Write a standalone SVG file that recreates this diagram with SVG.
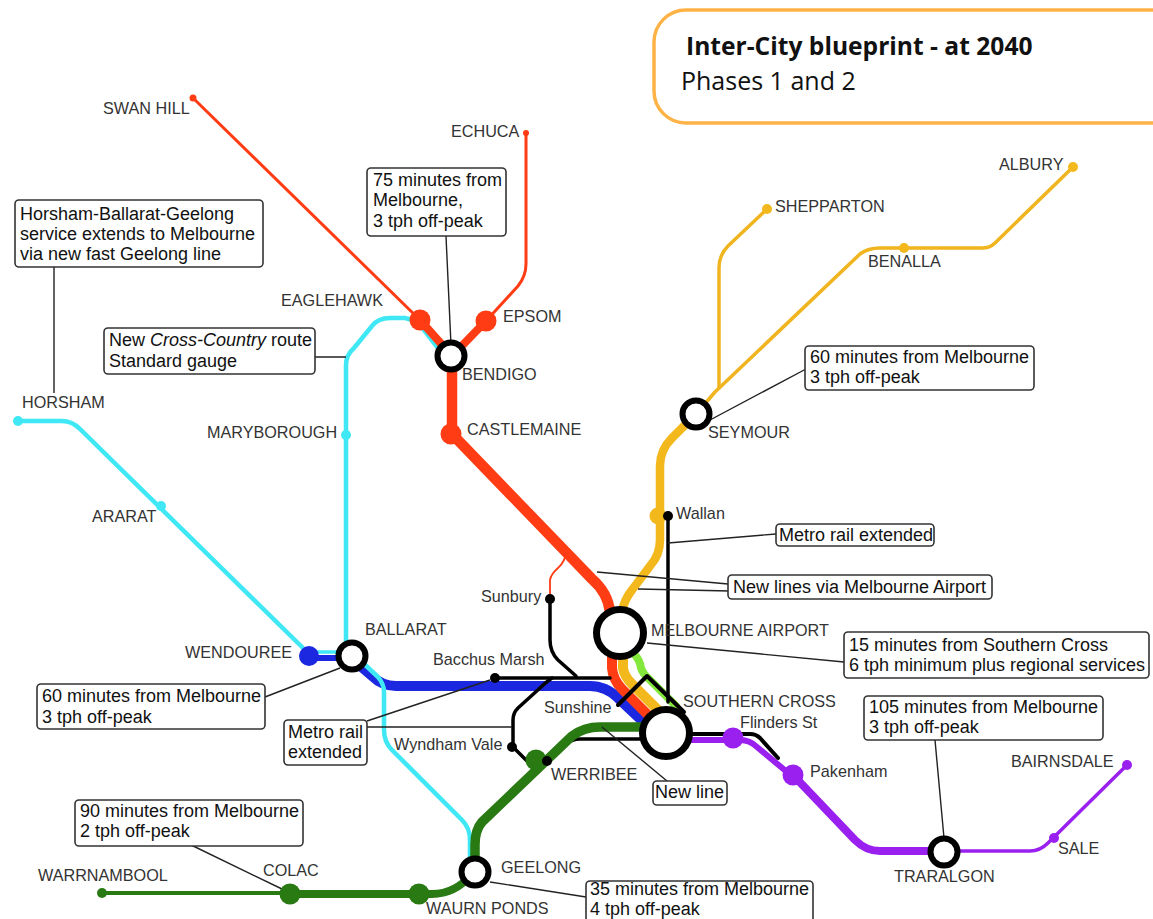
<svg xmlns="http://www.w3.org/2000/svg" width="1153" height="919" viewBox="0 0 1153 919">
<style>
text{font-family:"Liberation Sans",Arial,sans-serif;font-size:16.2px;fill:#333}
.k{fill:#111;font-size:18px}
.c{font-family:"Open Sans","Noto Sans",sans-serif;fill:#111}
.l{fill:none;stroke-linejoin:round;stroke-linecap:round}
.box{fill:#fff;stroke:#333;stroke-width:1.6}
.lead{fill:none;stroke:#222;stroke-width:1.4}
.st{fill:#fff;stroke:#000;stroke-width:6}
</style>
<rect width="1153" height="919" fill="#fff"/>
<g id="connectors">
<path class="l" stroke="#3fe8f4" stroke-width="4.5" d="M18 421H62Q72 421 80 429L302 647"/>
<path class="l" stroke="#3fe8f4" stroke-width="3.5" d="M302 647L307 652H345"/>
<path class="l" stroke="#1c28e0" stroke-width="6" d="M309 658H345"/>
<path class="l" stroke="#1c28e0" stroke-width="10" d="M358 664L372 676Q382 686 396 686H590Q606 686 618 698L652 730"/>
<path class="l" stroke="#3fe8f4" stroke-width="4.5" d="M360 660L378 677Q384 684 384 692V730Q384 742 392 750L462 820Q470 828 470 840V860"/>
<path class="l" stroke="#3fe8f4" stroke-width="4.5" d="M346 655V365Q346 355 354 348L372 326Q378 318 390 318H405Q416 320 424 330L438 348"/>
<path class="l" stroke="#f0b41e" stroke-width="3.5" d="M767 209L728 246Q719 255 719 268V388"/>
<path class="l" stroke="#f0b41e" stroke-width="3.5" d="M1073 167L995 243Q990 248 982 248H880Q868 248 860 254L715 392L696 414"/>
<path class="l" stroke="#f3b81c" stroke-width="8.5" d="M696 414L672 438Q660 450 660 466V540Q660 555 650 566L632 590Q624 600 622 612"/>
<path class="l" stroke="#ff3c14" stroke-width="3" d="M193 98L420 320"/>
<path class="l" stroke="#ff3c14" stroke-width="3" d="M526 133V264Q526 276 518 286L486 321"/>
<path class="l" stroke="#ff3c14" stroke-width="8" d="M420 320L452 356M486 321L452 356"/>
<path class="l" stroke="#ff3c14" stroke-width="10.5" d="M452 356V434L592 579Q608 593 610 612"/>
<path class="l" stroke="#ff3c14" stroke-width="1.8" d="M550 598V580Q551 574 558 568Q565 562 567 550"/>
<path class="l" stroke="#84e83c" stroke-width="8" d="M634 654Q640 660 641 668Q643 674 650 680L676 706"/>
<path class="l" stroke="#f3b81c" stroke-width="10" d="M623 655V668Q624 676 632 684L660 712"/>
<path class="l" stroke="#ff3c14" stroke-width="10" d="M612 655V668Q613 680 622 689L652 719"/>
<path class="l" stroke="#000" stroke-width="3.5" d="M495 678H610"/>
<path class="l" stroke="#000" stroke-width="3.5" d="M550 598V640Q550 652 558 660L576 676"/>
<path class="l" stroke="#000" stroke-width="3.5" d="M552 678Q546 682 540 688L518 708Q513 713 513 720V747L528 762"/>
<path class="l" stroke="#000" stroke-width="3.5" d="M668 516V702"/>
<path class="l" stroke="#000" stroke-width="3.5" d="M547 761L566 744Q572 739 580 739H660"/>
<path class="l" stroke="#2a7a14" stroke-width="9.5" d="M645 727H600Q584 727 572 736L482 822Q475 830 475 845V866"/>
<path class="l" stroke="#2a7a14" stroke-width="4" d="M102 893H290"/>
<path class="l" stroke="#2a7a14" stroke-width="8" d="M290 894H432Q455 894 472 874"/>
<path class="l" stroke="#9a20f0" stroke-width="6" d="M672 740H740Q750 740 757 747L793 777"/>
<path class="l" stroke="#000" stroke-width="4" d="M690 734H750Q756 734 760 738L778 758"/>
<path class="l" stroke="#9a20f0" stroke-width="8" d="M793 775L855 840Q866 851 880 851H944"/>
<path class="l" stroke="#9a20f0" stroke-width="3.5" d="M944 851H1030Q1040 851 1048 843L1127 765"/>
<path class="l" stroke="#000" stroke-width="4" d="M618 705L647 676L684 712"/>
<path class="lead" d="M54 267V393M346 357H315M446 236L451 345"/>
<path class="lead" d="M710 420L806 369M668 543L776 534M597 572L728 584M638 589L730 591M647 643L844 662M265 697L340 668M367 721L490 680M367 727H512M602 727L667 781M187 843L282 889M490 882L586 897M944 838L935 740"/>
</g>
<g id="node-swan-hill"><circle cx="193" cy="98" r="3.5" fill="#ff3c14"/><text x="103" y="114">SWAN HILL</text></g>
<g id="node-echuca"><circle cx="526" cy="133" r="3" fill="#ff3c14"/><text x="451" y="137">ECHUCA</text></g>
<g id="node-eaglehawk"><circle cx="420" cy="320" r="10.5" fill="#ff3c14"/><text x="281" y="306">EAGLEHAWK</text></g>
<g id="node-epsom"><circle cx="486" cy="321" r="10.5" fill="#ff3c14"/><text x="503" y="322">EPSOM</text></g>
<g id="node-bendigo"><circle class="st" cx="451" cy="356" r="13.5"/><text x="462" y="380">BENDIGO</text></g>
<g id="node-castlemaine"><circle cx="451" cy="434" r="10.5" fill="#ff3c14"/><text x="467" y="435">CASTLEMAINE</text></g>
<g id="node-maryborough"><circle cx="346" cy="435" r="5" fill="#3fe8f4"/><text x="207" y="438">MARYBOROUGH</text></g>
<g id="node-horsham"><circle cx="18" cy="421" r="5" fill="#3fe8f4"/><text x="22" y="408">HORSHAM</text></g>
<g id="node-ararat"><circle cx="161" cy="506" r="5" fill="#3fe8f4"/><text x="92" y="522">ARARAT</text></g>
<g id="node-wendouree"><circle cx="309" cy="656" r="10" fill="#1c28e0"/><text x="185" y="658">WENDOUREE</text></g>
<g id="node-ballarat"><circle class="st" cx="352" cy="656" r="13.5"/><text x="365" y="635">BALLARAT</text></g>
<g id="node-bacchus"><circle cx="495" cy="678" r="5" fill="#000"/><text x="433" y="665">Bacchus Marsh</text></g>
<g id="node-sunbury"><circle cx="550" cy="599" r="5" fill="#000"/><text x="481" y="602">Sunbury</text></g>
<g id="node-sunshine"><text x="544" y="713">Sunshine</text></g>
<g id="node-wyndham"><circle cx="512" cy="747" r="5" fill="#000"/><text x="394" y="750">Wyndham Vale</text></g>
<g id="node-werribee"><circle cx="536" cy="760" r="10.5" fill="#2a7a14"/><circle cx="547" cy="761" r="5" fill="#000"/><text x="551" y="780">WERRIBEE</text></g>
<g id="node-airport"><circle class="st" cx="620" cy="633" r="23.5" style="stroke-width:7"/><text x="651" y="636">MELBOURNE AIRPORT</text></g>
<g id="node-southern-cross"><circle class="st" cx="666" cy="733" r="23.5" style="stroke-width:7"/><text x="683" y="707">SOUTHERN CROSS</text></g>
<g id="node-flinders"><circle cx="733" cy="738" r="10.5" fill="#9a20f0"/><text x="740" y="728">Flinders St</text></g>
<g id="node-pakenham"><circle cx="793" cy="775" r="10.5" fill="#9a20f0"/><text x="810" y="777">Pakenham</text></g>
<g id="node-traralgon"><circle class="st" cx="944" cy="852" r="13.5"/><text x="894" y="882">TRARALGON</text></g>
<g id="node-sale"><circle cx="1054" cy="838" r="5" fill="#9a20f0"/><text x="1058" y="854">SALE</text></g>
<g id="node-bairnsdale"><circle cx="1127" cy="765" r="5" fill="#9a20f0"/><text x="1011" y="767">BAIRNSDALE</text></g>
<g id="node-wallan"><circle cx="658" cy="516" r="8.5" fill="#f3b81c"/><circle cx="668" cy="516" r="5" fill="#000"/><text x="676" y="519">Wallan</text></g>
<g id="node-seymour"><circle class="st" cx="696" cy="414" r="13.5"/><text x="708" y="438">SEYMOUR</text></g>
<g id="node-shepparton"><circle cx="767" cy="209" r="5" fill="#f3b81c"/><text x="775" y="212">SHEPPARTON</text></g>
<g id="node-benalla"><circle cx="904" cy="248" r="5" fill="#f3b81c"/><text x="868" y="267">BENALLA</text></g>
<g id="node-albury"><circle cx="1073" cy="167" r="5" fill="#f3b81c"/><text x="999" y="170">ALBURY</text></g>
<g id="node-geelong"><circle class="st" cx="475" cy="872" r="13.5"/><text x="501" y="873">GEELONG</text></g>
<g id="node-waurn"><circle cx="419" cy="894" r="10.5" fill="#2a7a14"/><text x="426" y="914">WAURN PONDS</text></g>
<g id="node-colac"><circle cx="290" cy="894" r="10.5" fill="#2a7a14"/><text x="263" y="876">COLAC</text></g>
<g id="node-warrnambool"><circle cx="102" cy="893" r="5" fill="#2a7a14"/><text x="38" y="881">WARRNAMBOOL</text></g>
<g id="note-title"><path d="M1153 10H686A32 32 0 0 0 654 42V91A32 32 0 0 0 686 123H1153" fill="#fff" stroke="#ffb347" stroke-width="3.5"/><text class="c" x="686" y="55" style="font-size:24.6px;font-weight:700">Inter-City blueprint - at 2040</text><text class="c" x="681" y="90" style="font-size:25px">Phases 1 and 2</text></g>
<g id="note-horsham"><rect class="box" x="15" y="200" width="248" height="67" rx="4"/><text class="k" x="20" y="220">Horsham-Ballarat-Geelong</text><text class="k" x="20" y="240">service extends to Melbourne</text><text class="k" x="20" y="260">via new fast Geelong line</text></g>
<g id="note-75"><rect class="box" x="367" y="168" width="139" height="68" rx="4"/><text class="k" x="373" y="186">75 minutes from</text><text class="k" x="373" y="206">Melbourne,</text><text class="k" x="373" y="227">3 tph off-peak</text></g>
<g id="note-cross"><rect class="box" x="104" y="328" width="211" height="46" rx="4"/><text class="k" x="109" y="346">New <tspan font-style="italic">Cross-Country</tspan> route</text><text class="k" x="109" y="367">Standard gauge</text></g>
<g id="note-60a"><rect class="box" x="805" y="346" width="229" height="44" rx="4"/><text class="k" x="810" y="363">60 minutes from Melbourne</text><text class="k" x="810" y="383">3 tph off-peak</text></g>
<g id="note-metro"><rect class="box" x="776" y="524" width="158" height="22" rx="4"/><text class="k" x="779" y="541">Metro rail extended</text></g>
<g id="note-airport"><rect class="box" x="728" y="575" width="264" height="24" rx="4"/><text class="k" x="733" y="593">New lines via Melbourne Airport</text></g>
<g id="note-15"><rect class="box" x="844" y="632" width="305" height="46" rx="4"/><text class="k" x="849" y="651">15 minutes from Southern Cross</text><text class="k" x="849" y="671">6 tph minimum plus regional services</text></g>
<g id="note-105"><rect class="box" x="864" y="696" width="239" height="44" rx="4"/><text class="k" x="869" y="713">105 minutes from Melbourne</text><text class="k" x="869" y="733">3 tph off-peak</text></g>
<g id="note-60b"><rect class="box" x="37" y="684" width="228" height="45" rx="4"/><text class="k" x="42" y="702">60 minutes from Melbourne</text><text class="k" x="42" y="723">3 tph off-peak</text></g>
<g id="note-metro2"><rect class="box" x="284" y="720" width="83" height="45" rx="4"/><text class="k" x="288" y="738">Metro rail</text><text class="k" x="288" y="758">extended</text></g>
<g id="note-newline"><rect class="box" x="653" y="781" width="74" height="24" rx="4"/><text class="k" x="655" y="798">New line</text></g>
<g id="note-90"><rect class="box" x="75" y="800" width="228" height="46" rx="4"/><text class="k" x="80" y="817">90 minutes from Melbourne</text><text class="k" x="80" y="837">2 tph off-peak</text></g>
<g id="note-35"><rect class="box" x="586" y="881" width="227" height="45" rx="4"/><text class="k" x="590" y="895">35 minutes from Melbourne</text><text class="k" x="590" y="915">4 tph off-peak</text></g>
</svg>
